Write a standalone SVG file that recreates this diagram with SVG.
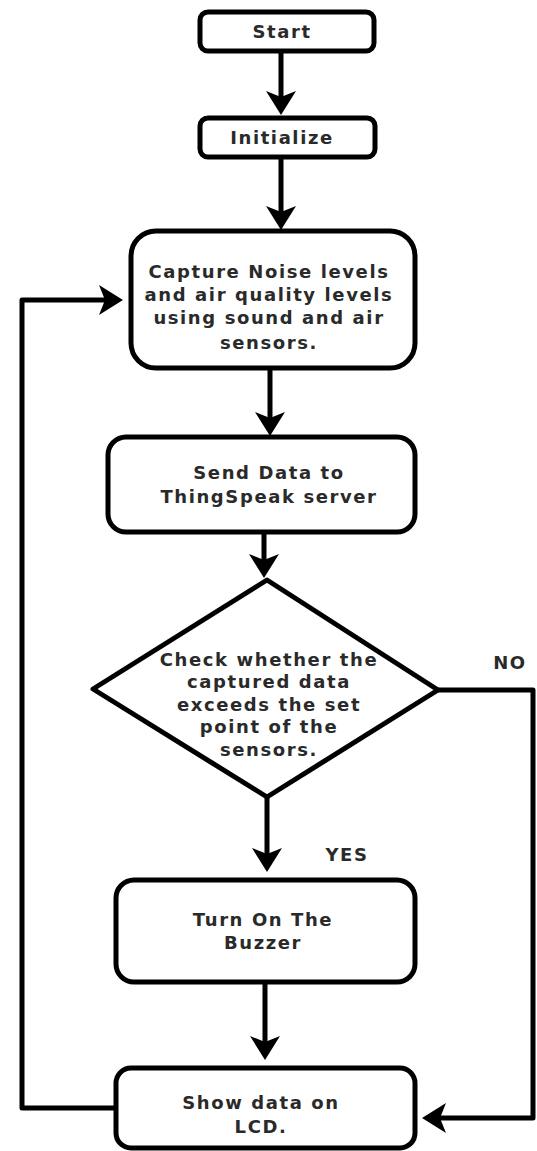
<svg xmlns="http://www.w3.org/2000/svg" width="537" height="1151" viewBox="0 0 537 1151">
<style>
.box{fill:#fff;stroke:#000;stroke-width:5;stroke-linejoin:round}
.t{font-family:"DejaVu Sans","Liberation Sans",sans-serif;font-weight:bold;font-size:18px;fill:#2a2a2a;text-anchor:middle;letter-spacing:1.6px}
.c{fill:none;stroke:#000;stroke-width:5;stroke-linejoin:round}
</style>
<defs>
<marker id="ah" viewBox="0 0 24 30" refX="14" refY="15" markerWidth="24" markerHeight="30" markerUnits="userSpaceOnUse" orient="auto">
<path d="M0,0 L24,15 L0,30 L6,15 z" fill="#000"/>
</marker>
</defs>
<rect width="537" height="1151" fill="#fff"/>
<g id="connectors">
<path class="c" d="M281,51 V105" marker-end="url(#ah)"/>
<path class="c" d="M281,157 V220" marker-end="url(#ah)"/>
<path class="c" d="M270,368 V426" marker-end="url(#ah)"/>
<path class="c" d="M264,532 V568" marker-end="url(#ah)"/>
<path class="c" d="M267,797 V862" marker-end="url(#ah)"/>
<path class="c" d="M265,982 V1050" marker-end="url(#ah)"/>
<path class="c" d="M438,690 H533 V1118 H432" marker-end="url(#ah)"/>
<path class="c" d="M116,1108 H22 V300 H113" marker-end="url(#ah)"/>
<text class="t" x="510" y="669">NO</text>
<text class="t" x="347" y="861">YES</text>
</g>
<g id="start">
<rect class="box" x="200" y="12" width="174" height="39" rx="8"/>
<text class="t" x="282" y="38">Start</text>
</g>
<g id="initialize">
<rect class="box" x="200" y="118" width="175" height="39" rx="8"/>
<text class="t" x="282" y="144">Initialize</text>
</g>
<g id="capture">
<rect class="box" x="131" y="231" width="284" height="137" rx="25"/>
<text class="t" x="269" y="278">Capture Noise levels</text>
<text class="t" x="269" y="301">and air quality levels</text>
<text class="t" x="269" y="324">using sound and air</text>
<text class="t" x="269" y="349">sensors.</text>
</g>
<g id="send">
<rect class="box" x="108" y="437" width="307" height="95" rx="18"/>
<text class="t" x="269" y="479">Send Data to</text>
<text class="t" x="269" y="503">ThingSpeak server</text>
</g>
<g id="check">
<polygon class="box" points="267,580 438,690 267,797 93,689"/>
<text class="t" x="269" y="666">Check whether the</text>
<text class="t" x="269" y="688">captured data</text>
<text class="t" x="269" y="711">exceeds the set</text>
<text class="t" x="269" y="733">point of the</text>
<text class="t" x="269" y="756">sensors.</text>
</g>
<g id="buzzer">
<rect class="box" x="116" y="880" width="299" height="102" rx="18"/>
<text class="t" x="263" y="926">Turn On The</text>
<text class="t" x="263" y="949">Buzzer</text>
</g>
<g id="show">
<rect class="box" x="116" y="1068" width="299" height="80" rx="15"/>
<text class="t" x="261" y="1109">Show data on</text>
<text class="t" x="261" y="1133">LCD.</text>
</g>
</svg>
